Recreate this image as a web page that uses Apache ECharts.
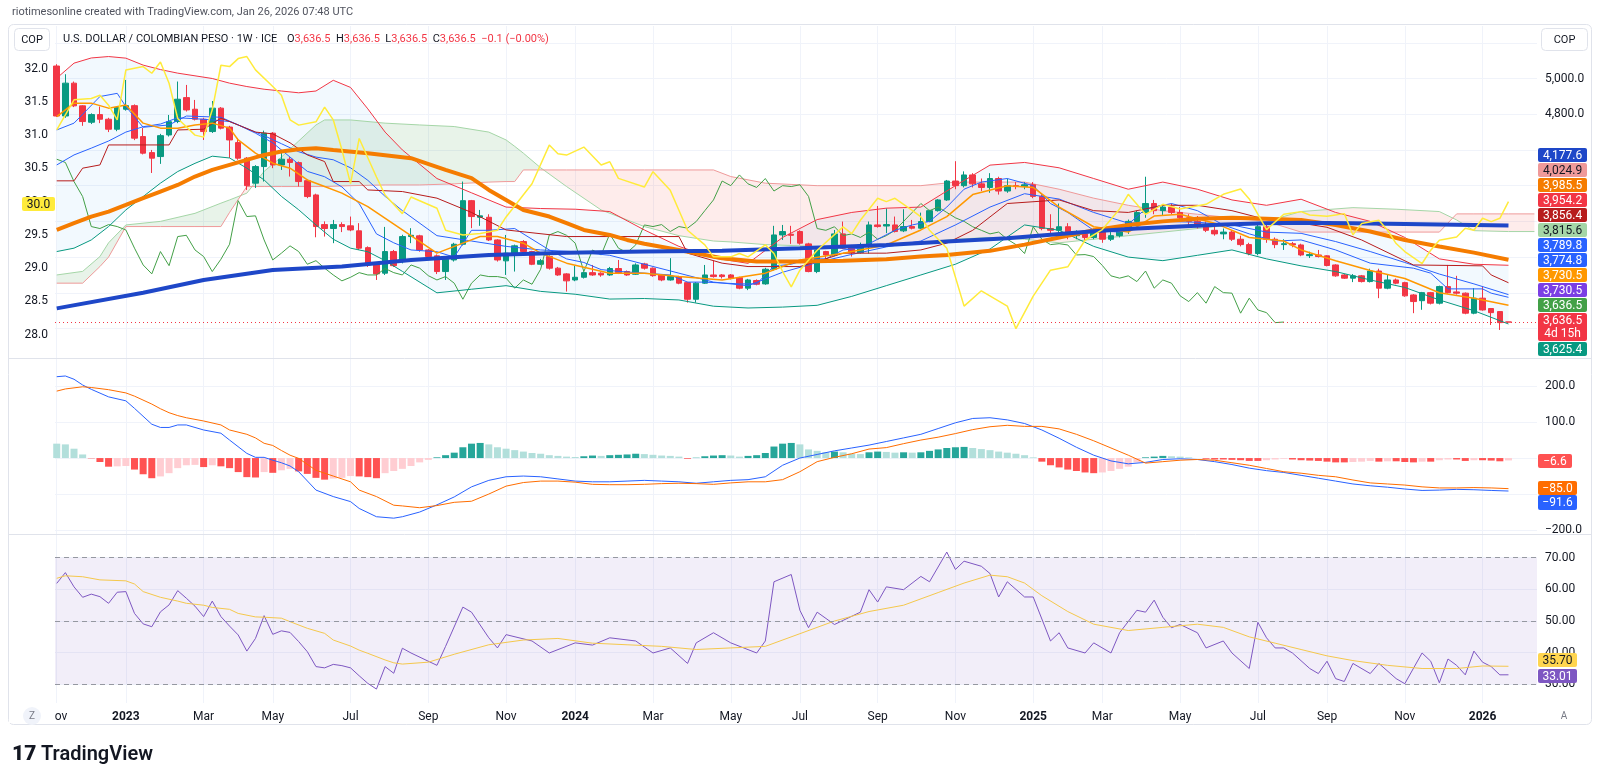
<!DOCTYPE html>
<html><head><meta charset="utf-8">
<script src="https://cdn.jsdelivr.net/npm/echarts@6/dist/echarts.min.js"></script>
<style>html,body{margin:0;padding:0;background:#fff;}#c{width:1600px;height:783px;}</style>
</head><body><div id="c"></div>
<script>
// ---------------- DATA (weekly bars, index 0 = week of 2022-11-07) ----------------
const OPEN = [5070,4790,4974,4847,4755,4798,4772,4716,4828,4848,
4675,4585,4563,4684,4759,4893,4828,4772,4703,4834,
4728,4641,4554,4414,4507,4694,4516,4548,4529,4428,
4348,4182,4160,4182,4175,4147,4053,3956,3910,4031,
3975,4115,4119,4040,4007,3919,3984,4072,4316,4223,
4223,4096,3979,4022,4087,4031,3960,4003,3938,3906,
3872,3887,3913,3910,3900,3936,3919,3904,3962,3938,
3900,3872,3891,3857,3764,3854,3900,3900,3900,3885,
3826,3869,3850,3932,4124,4128,4143,4074,3919,4031,
4012,4130,4063,4025,4068,4180,4174,4180,4147,4171,
4162,4199,4260,4320,4426,4400,4460,4410,4390,4440,
4370,4400,4395,4405,4340,4160,4150,4170,4120,4130,
4110,4140,4100,4120,4150,4200,4250,4300,4260,4280,
4250,4220,4200,4170,4150,4130,4140,4100,4070,4020,
4170,4100,4070,4075,4068,4008,4012,4007,3956,3900,
3882,3895,3863,3922,3826,3872,3857,3788,3756,3801,
3742,3835,3805,3798,3686,3770,3712,3695,3636.5];
const HIGH = [5080,5024,4983,4850,4805,4843,4780,4845,4992,4855,
4723,4600,4690,4796,4983,4964,4880,4780,4874,4840,
4735,4667,4560,4515,4708,4700,4600,4560,4535,4435,
4355,4200,4208,4195,4227,4190,4060,3965,4169,4040,
4125,4162,4125,4045,4015,3995,4080,4423,4320,4264,
4240,4100,4124,4070,4095,4035,3990,4010,3945,3910,
3951,3920,3956,3915,3945,3984,3925,3965,3968,3942,
3905,3994,3895,3862,3860,3956,3980,3905,3905,3890,
3878,3875,3940,4175,4180,4175,4150,4080,4059,4035,
4152,4199,4068,4081,4199,4286,4273,4227,4268,4208,
4249,4265,4325,4432,4537,4480,4470,4440,4470,4450,
4440,4420,4420,4420,4350,4240,4300,4190,4150,4140,
4160,4150,4140,4160,4210,4260,4450,4320,4290,4300,
4280,4240,4230,4200,4180,4160,4150,4120,4080,4190,
4180,4110,4100,4085,4075,4030,4040,4010,3960,3905,
3905,3900,3935,3935,3900,3880,3862,3793,3805,3805,
3840,3956,3895,3802,3826,3835,3715,3698,3636.5];
const LOW = [4785,4780,4840,4735,4745,4750,4700,4705,4820,4655,
4575,4471,4522,4675,4750,4815,4765,4656,4695,4715,
4555,4545,4376,4387,4423,4498,4488,4451,4395,4330,
4111,4115,4078,4140,4145,4040,3945,3872,3900,3945,
3965,4078,4030,3995,3905,3872,3975,4065,4162,4175,
4090,3975,3900,3919,4025,3955,3955,3930,3895,3807,
3865,3880,3895,3890,3895,3905,3895,3900,3930,3890,
3865,3868,3848,3745,3745,3850,3885,3880,3875,3820,
3815,3842,3845,3925,4096,4074,4070,3915,3910,3988,
4005,4045,4003,4020,4020,4165,4134,4138,4140,4155,
4158,4195,4255,4315,4380,4390,4390,4370,4360,4350,
4360,4380,4380,4330,4150,4130,4120,4100,4100,4090,
4100,4080,4090,4110,4130,4180,4220,4240,4230,4240,
4200,4180,4160,4140,4120,4100,4090,4060,4010,4010,
4080,4050,4040,4055,4005,3995,3998,3948,3890,3878,
3860,3858,3858,3770,3820,3848,3778,3686,3705,3735,
3735,3795,3790,3680,3680,3700,3620,3592,3636.5];
const CLOSE = [4790,4974,4847,4759,4798,4772,4716,4837,4848,4666,
4582,4554,4680,4758,4884,4824,4772,4703,4834,4722,
4656,4554,4400,4507,4694,4516,4548,4530,4423,4339,
4171,4160,4182,4171,4152,4050,3956,3906,4031,3952,
4115,4122,4040,4003,3919,3988,4072,4316,4227,4231,
4096,3984,4022,4063,4031,3960,3980,3938,3900,3867,
3887,3913,3900,3900,3936,3913,3900,3956,3938,3896,
3872,3891,3854,3764,3854,3900,3891,3891,3882,3826,
3872,3848,3932,4124,4143,4122,4078,3919,4040,4012,
4130,4050,4025,4068,4180,4171,4182,4143,4171,4162,
4199,4260,4320,4426,4400,4460,4410,4390,4440,4370,
4400,4395,4405,4340,4160,4150,4170,4120,4130,4110,
4140,4100,4120,4150,4200,4250,4300,4260,4280,4250,
4220,4200,4170,4150,4130,4140,4100,4070,4020,4170,
4100,4070,4075,4068,4012,4014,4003,3953,3895,3882,
3895,3863,3922,3826,3872,3854,3783,3751,3801,3742,
3835,3801,3798,3686,3770,3704,3689,3633,3636.5];

// x-axis ticks: [bar index, label]
const TIME_TICKS = [[0,'Nov'],[8,'2023'],[17,'Mar'],[25,'May'],[34,'Jul'],[43,'Sep'],[52,'Nov'],
[60,'2024'],[69,'Mar'],[78,'May'],[86,'Jul'],[95,'Sep'],[104,'Nov'],[113,'2025'],[121,'Mar'],
[130,'May'],[139,'Jul'],[147,'Sep'],[156,'Nov'],[165,'2026']];
const PRICE_TICKS = [3600,3800,4000,4200,4400,4600,4800,5000,5200];
const PRICE_LABELS = [4800,5000];
const LEFT_TICKS = [28,28.5,29,29.5,30,30.5,31,31.5,32];
const MACD_TICKS = [-200,-100,0,100,200];
const MACD_LABELS = [-200,100,200];
const RSI_TICKS = [30,40,50,60,70];

// Bollinger Bands (read on a shared index set)
const BB_IDX = [0,2,4,6,8,10,12,14,16,18,20,22,24,26,28,30,32,34,36,38,40,44,48,52,56,60,64,68,72,76,80,84,88,92,96,100,104,108,112,116,120,124,128,132,136,140,144,148,152,156,160,164,168];
const BB_UPPER = [5002,5086,5115,5123,5114,5075,5050,5030,5015,5000,4974,4955,4940,4930,4920,4930,4990,4950,4830,4700,4600,4440,4360,4280,4272,4268,4255,4152,4060,3995,3965,4110,4210,4250,4274,4280,4400,4515,4530,4500,4440,4380,4420,4380,4320,4290,4324,4250,4200,4110,3990,3960,3954.2];
const BB_BASIS = [4516,4572,4610,4650,4700,4730,4745,4780,4775,4768,4759,4720,4680,4635,4590,4560,4545,4500,4430,4340,4260,4120,4090,4060,4040,4030,4010,3960,3910,3860,3840,3915,3970,4015,4057,4090,4180,4280,4355,4325,4250,4190,4200,4195,4180,4140,4133,4087,4031,3970,3905,3850,3789.8];
const BB_LOWER = [4031,4050,4096,4171,4264,4339,4414,4479,4525,4565,4555,4498,4432,4340,4265,4180,4100,4050,4030,3980,3920,3800,3820,3840,3808,3792,3765,3768,3760,3725,3715,3720,3730,3780,3840,3900,3960,4045,4180,4150,4060,4000,3980,4010,4040,3990,3951,3919,3872,3830,3760,3700,3625.4];

// Ichimoku
const TENKAN = [[0,4712],[2,4750],[5,4899],[7,4917],[8,4843],[10,4727],[13,4740],[15,4790],[19,4783],[21,4740],[23,4694],[25,4640],[27,4560],[29,4480],[31,4450],[33,4393],[35,4300],[37,4130],[39,4080],[41,4040],[44,4030],[46,4000],[48,4150],[50,4150],[53,4160],[55,4100],[57,4040],[59,3990],[61,3970],[63,3930],[65,3920],[68,3910],[71,3900],[73,3860],[75,3860],[77,3855],[79,3850],[81,3850],[83,3950],[85,3960],[87,3990],[89,3990],[91,4040],[93,4050],[95,4100],[97,4150],[99,4180],[101,4200],[103,4280],[105,4380],[107,4420],[110,4440],[113,4400],[115,4300],[117,4250],[120,4150],[123,4140],[126,4270],[129,4300],[132,4260],[135,4180],[138,4130],[141,4090],[144,4096],[148,4040],[152,3966],[157,3938],[159,3910],[161,3822],[165,3822],[166,3798],[168,3774.8]];
const KIJUN = [[0,4427],[2,4427],[3,4498],[5,4516],[6,4628],[13,4628],[14,4712],[17,4716],[19,4778],[21,4740],[23,4700],[25,4690],[27,4640],[29,4572],[31,4535],[32,4423],[35,4423],[36,4376],[40,4367],[44,4330],[48,4250],[52,4152],[59,4115],[72,4115],[73,4022],[77,3966],[80,3947],[86,3947],[89,3990],[91,4022],[96,4022],[100,4040],[103,4078],[106,4150],[110,4300],[116,4320],[120,4260],[124,4250],[128,4290],[132,4290],[136,4260],[140,4210],[144,4190],[147,4167],[151,4096],[157,3956],[165,3951],[166,3900],[168,3856.4]];
const CLOUD_IDX = [0,3,5,6,8,12,16,19,20,22,24,26,28,30,31,34,38,42,46,50,52,53,54,56,59,63,68,72,76,78,82,88,94,100,104,108,112,116,120,124,128,132,136,140,144,150,155,160,162,164,168,171];
const LEAD_A = [3900,3920,4003,4080,4180,4200,4245,4302,4320,4358,4480,4560,4650,4740,4768,4768,4750,4740,4731,4700,4656,4620,4582,4500,4395,4264,4171,4120,4090,4085,4070,4060,4060,4080,4100,4110,4100,4080,4100,4120,4140,4160,4180,4200,4255,4277,4268,4255,4208,4148,4143,4143];
const LEAD_B = [3854,3854,3947,4000,4171,4171,4171,4171,4250,4395,4395,4395,4395,4395,4395,4400,4404,4404,4410,4420,4423,4423,4488,4488,4488,4488,4488,4488,4488,4451,4414,4400,4400,4400,4420,4420,4420,4380,4330,4290,4260,4240,4220,4200,4140,4140,4140,4140,4242,4242,4242,4242];
const LAG_SHIFT = 26;

// Moving averages
const SMA50 = [[0,4152],[2,4190],[4,4227],[6,4255],[8,4292],[10,4330],[12,4367],[14,4404],[16,4451],[18,4488],[20,4516],[22,4544],[24,4572],[26,4591],[28,4604],[30,4610],[32,4600],[36,4582],[41,4554],[45,4488],[48,4442],[50,4376],[52,4320],[54,4264],[57,4227],[59,4190],[61,4152],[64,4124],[66,4096],[68,4075],[72,4040],[77,3994],[81,3975],[86,3975],[91,3980],[96,3988],[100,4003],[103,4012],[108,4035],[112,4070],[116,4110],[120,4150],[124,4180],[128,4200],[132,4215],[136,4220],[140,4215],[144,4208],[148,4180],[152,4143],[156,4096],[160,4059],[164,4025],[168,3985.5]];
const SMA200 = [[0,3713],[10,3800],[17,3872],[25,3928],[33,3947],[41,3984],[50,4012],[59,4025],[68,4031],[77,4035],[86,4050],[96,4068],[103,4087],[110,4105],[115,4125],[120,4145],[125,4160],[130,4172],[135,4182],[140,4190],[144,4192],[150,4190],[160,4183],[168,4177.6]];
const EMA_FAST = [[0,4787],[2,4862],[4,4862],[6,4834],[8,4852],[10,4750],[12,4722],[14,4722],[16,4740],[18,4750],[20,4722],[21,4656],[23,4582],[25,4526],[27,4498],[29,4432],[31,4395],[33,4358],[36,4283],[40,4152],[44,4022],[47,4078],[49,4115],[51,4115],[54,4078],[56,4022],[59,3966],[64,3910],[68,3910],[72,3891],[77,3872],[82,3910],[84,3947],[86,3984],[91,4022],[96,4068],[100,4152],[103,4227],[106,4350],[110,4400],[113,4390],[116,4280],[120,4170],[124,4140],[127,4230],[130,4240],[134,4190],[138,4110],[142,4090],[144,4040],[148,3980],[152,3925],[156,3880],[160,3800],[164,3770],[168,3730.5]];
// overlay on the left scale
const OVERLAY = [[0,31.08],[2,31.53],[4,31.55],[5,31.6],[6,31.45],[7,31.23],[8,31.98],[10,32.03],[11,31.93],[12,32.1],[13,31.78],[14,31.25],[16,31.0],[17,30.97],[18,31.38],[19,32.05],[20,32.03],[21,32.15],[22,32.18],[23,31.98],[25,31.73],[26,31.6],[27,31.23],[28,31.15],[30,31.2],[31,31.42],[32,31.23],[33,30.78],[34,30.27],[35,30.95],[37,30.37],[38,30.1],[40,29.82],[41,30.07],[44,29.9],[45,29.57],[47,29.5],[49,29.52],[51,29.57],[52,29.77],[55,30.27],[57,30.85],[58,30.72],[59,30.7],[61,30.82],[63,30.55],[64,30.6],[65,30.35],[68,30.22],[69,30.45],[71,30.17],[72,29.87],[73,29.57],[75,29.35],[76,29.17],[78,29.17],[79,29.22],[80,29.17],[82,29.35],[83,29.22],[84,28.95],[85,28.72],[86,28.97],[88,29.27],[91,29.62],[92,29.52],[93,29.72],[95,30.05],[96,30.0],[97,30.05],[99,29.87],[100,29.77],[101,29.57],[103,29.3],[105,28.43],[107,28.66],[110,28.43],[111,28.09],[113,28.58],[115,28.97],[117,29.02],[119,29.42],[121,29.58],[123,29.89],[124,30.11],[126,29.81],[128,29.96],[130,29.89],[133,29.96],[135,30.11],[137,30.19],[138,30.04],[140,29.58],[142,29.81],[144,29.85],[145,29.8],[147,29.78],[148,29.8],[149,29.82],[150,29.5],[151,29.67],[153,29.72],[154,29.57],[155,29.37],[156,29.25],[158,29.07],[159,29.27],[160,29.42],[162,29.47],[163,29.6],[164,29.57],[165,29.75],[166,29.7],[167,29.75],[168,30.0]];

// MACD
const HIST = [40,38,26,10,-1,-11,-24,-23,-22,-32,
-45,-56,-51,-42,-28,-20,-19,-25,-20,-23,
-28,-39,-53,-54,-39,-41,-34,-30,-37,-44,
-55,-60,-57,-55,-50,-51,-53,-56,-42,-36,
-30,-22,-12,-5,2,8,15,30,40,42,
38,30,26,22,18,14,12,8,6,4,
3,5,7,6,8,9,10,12,11,9,
7,6,4,-2,1,5,7,8,7,4,
6,8,14,32,40,42,38,24,20,16,
18,16,12,11,16,18,17,15,16,15,
16,20,24,28,30,31,28,25,22,18,
15,12,8,2,-10,-20,-26,-32,-36,-40,
-42,-40,-36,-30,-24,-12,2,4,6,5,
4,2,0,-2,-4,-4,-5,-6,-8,-8,
-6,-4,-2,-4,-6,-7,-8,-10,-12,-12,
-11,-10,-8,-10,-9,-9,-11,-12,-10,-10,
-6,-4,-4,-8,-6,-6,-7,-9,-6.6];
const MACD_IDX = [0,1,2,3,4,6,8,9,11,12,13,14,15,17,19,20,22,23,24,25,26,27,28,30,32,34,35,37,39,40,42,44,46,48,50,52,54,56,58,60,62,64,66,68,70,72,74,76,78,80,82,84,86,88,90,92,94,96,98,100,102,104,106,108,110,112,114,116,118,120,122,124,126,128,130,132,134,136,138,140,142,144,146,148,150,152,154,156,158,160,162,164,166,168];
const MACD_LINE = [226,228,219,203,191,170,159,138,94,85,85,92,92,78,69,50,13,2,2,-6,-13,-22,-38,-89,-107,-121,-140,-163,-167,-163,-150,-130,-108,-80,-62,-52,-50,-52,-58,-64,-66,-66,-64,-62,-64,-66,-70,-66,-62,-60,-52,-20,0,10,20,28,36,46,56,66,82,98,110,112,106,96,78,55,30,8,-8,-16,-12,-4,-2,-4,-10,-18,-28,-35,-40,-48,-56,-64,-72,-77,-81,-86,-90,-89,-87,-88,-90,-91.6];
const SIGNAL = [186,192,195,198,196,190,181,172,150,137,126,118,112,103,92,78,66,56,41,35,21,8,-1,-34,-50,-66,-89,-107,-131,-133,-138,-132,-123,-120,-100,-78,-68,-64,-64,-67,-73,-74,-74,-73,-71,-70,-71,-73,-69,-66,-66,-60,-38,-10,2,12,25,29,40,50,58,68,79,87,91,88,88,81,66,48,28,8,-14,-10,-6,-4,-6,-13,-20,-29,-38,-42,-48,-52,-61,-69,-72,-75,-80,-83,-83,-82,-83,-85];

// RSI
const RSI = [[0,61.9],[1,65.3],[2,60.8],[3,57.5],[4,58.5],[5,57.7],[6,55.6],[7,59.1],[8,59.3],[9,52.4],[10,49.1],[11,48.2],[12,52.9],[13,55.1],[14,59.6],[15,57.2],[16,54.7],[17,51.4],[18,56.3],[19,51.4],[20,48.4],[21,45.6],[22,40.5],[23,44.5],[24,51.7],[25,45.8],[26,46.9],[27,46.4],[28,43.5],[29,40.3],[30,35.6],[31,35.2],[32,36.3],[33,35.9],[34,35.2],[35,32.7],[36,30.3],[37,28.5],[38,35.6],[39,33.5],[40,41.4],[41,39.9],[44,36],[45,42],[47,54.4],[48,52.8],[50,44.7],[51,41.5],[52,45.7],[55,43.7],[57,39.9],[60,43.1],[62,42.4],[64,44.7],[67,43.7],[69,39.9],[71,41.5],[73,36.6],[74,43.1],[76,46.3],[78,43.1],[81,39.9],[82,43.7],[83,62.4],[85,64.7],[86,53.4],[87,47.9],[88,52.8],[90,48.9],[93,52.8],[94,59.9],[95,56],[96,60.8],[98,59.9],[100,64.1],[101,62.4],[103,71.8],[104,66.3],[105,68.9],[107,67.3],[108,65],[109,57.6],[110,62.4],[112,57.6],[113,57.6],[115,43.7],[116,46.3],[117,41.5],[119,39.9],[120,43.1],[122,39.9],[123,46.3],[125,53.4],[126,52.8],[127,56.6],[128,51.2],[129,47.9],[130,48.9],[132,46.3],[133,41.5],[135,43.7],[136,39.9],[138,35],[139,49.6],[140,44.7],[141,41.5],[142,41.5],[143,39.9],[145,35],[146,33.4],[147,37.3],[148,31.8],[149,30.9],[150,36.6],[152,33.4],[153,36.6],[155,31.8],[156,30.2],[158,39.9],[159,37.3],[160,30.5],[161,38],[162,36],[163,33],[164,40.5],[165,37],[166,35.6],[167,33],[168,33.01]];
const RSI_MA = [[0,63.5],[1,64.3],[3,64],[5,63],[8,62.7],[9,61.7],[10,59.3],[12,57.5],[14,56.3],[15,55.6],[17,55],[18,54.3],[20,53.7],[21,52.4],[23,51.3],[24,51.2],[26,50.9],[27,49.8],[29,47.7],[31,46.1],[32,44],[34,42.1],[35,40.8],[36,39.8],[38,37.7],[39,36.8],[40,36.4],[43,37],[46,39.5],[50,42.5],[54,44],[58,44.5],[62,43],[66,42.5],[70,42],[74,41],[78,41.5],[82,42],[86,46],[90,50],[94,53],[98,55],[102,59],[105,62],[108,64.5],[110,64],[112,62],[114,58],[117,53],[120,49],[124,47],[128,48],[132,49],[135,48],[138,45],[141,43],[144,41],[147,39],[150,37.5],[154,36],[158,35],[162,35],[165,35.8],[168,35.7]];

// price-scale tags (stacked as in the picture)
const PRICE_TAGS = [
 ['4,177.6','#1E47C8','#ffffff'],['4,024.9','#EF9A9A','#131722'],['3,985.5','#F57C00','#ffffff'],
 ['3,954.2','#F23645','#ffffff'],['3,856.4','#B71C1C','#ffffff'],['3,815.6','#A5D6A7','#131722'],
 ['3,789.8','#2962FF','#ffffff'],['3,774.8','#2962FF','#ffffff'],['3,730.5','#FF9800','#ffffff'],
 ['3,730.5','#7B3FE4','#ffffff'],['3,636.5','#43A047','#ffffff']];

// ---------------- CHART ----------------
const FONT = 'Roboto, "Liberation Sans", Arial, sans-serif';
const X_MIN = -0.2, X_MAX = 171.3;
const PLOT_L = 55, PLOT_R = 1537;
const tickMap = {}; TIME_TICKS.forEach(t => tickMap[t[0]] = t[1]);
const tickIdx = TIME_TICKS.map(t => t[0]);
const fmtNum = (v, d) => (v < 0 ? '\u2212' : '') + Math.abs(v).toFixed(d).replace(/\B(?=(\d{3})+(?!\d))/g, ',');

const chart = echarts.init(document.getElementById('c'), null, {renderer: 'canvas'});

function xAxis(k, showLabels) {
  return {
    type: 'value', gridIndex: k, min: X_MIN, max: X_MAX,
    axisLine: {show: false},
    axisTick: {show: false, customValues: tickIdx},
    splitLine: {show: true, lineStyle: {color: '#F0F3FA', width: 1}},
    axisLabel: {
      show: showLabels, customValues: tickIdx, margin: 8,
      color: '#131722', fontSize: 12, fontFamily: FONT,
      formatter: v => { const s = tickMap[Math.round(v)] || ''; return /^\d{4}$/.test(s) ? '{b|' + s + '}' : s; },
      rich: {b: {fontWeight: 'bold', fontSize: 12, fontFamily: FONT, color: '#131722'}}
    }
  };
}

function sparseLine(name, data, color, width, z, yIdx, xIdx) {
  return {
    name, type: 'line', data, xAxisIndex: xIdx || 0, yAxisIndex: yIdx || 0,
    showSymbol: false, symbol: 'none', silent: true, z,
    lineStyle: {color, width}, emphasis: {disabled: true}, animation: false
  };
}

const candleData = OPEN.map((o, i) => {
  const item = {value: [i, o, CLOSE[i], LOW[i], HIGH[i]]};
  if (i === OPEN.length - 1) item.itemStyle = {color: '#F23645', borderColor: '#F23645', color0: '#F23645', borderColor0: '#F23645'};
  return item;
});
const lagData = [];
for (let i = LAG_SHIFT; i < CLOSE.length; i++) lagData.push([i - LAG_SHIFT, CLOSE[i]]);
const histData = HIST.map((v, i) => {
  const p = i > 0 ? HIST[i - 1] : v + 1;
  const c = v >= 0 ? (v >= p ? '#26A69A' : '#B2DFDB') : (v <= p ? '#FF5252' : '#FFCDD2');
  return {value: [i, v], itemStyle: {color: c}};
});
const zip = (idx, vals) => idx.map((x, k) => [x, vals[k]]);

const bbFill = {
  type: 'custom', xAxisIndex: 0, yAxisIndex: 0, z: 1, silent: true, data: [[0, 4000]], encode: {x: 0, y: 1},
  renderItem: (params, api) => {
    const up = BB_IDX.map((x, k) => api.coord([x, BB_UPPER[k]]));
    const lo = BB_IDX.map((x, k) => api.coord([x, BB_LOWER[k]])).reverse();
    return {type: 'polygon', shape: {points: up.concat(lo)}, style: {fill: 'rgba(33,150,243,0.06)'}};
  }
};
const cloudFill = {
  type: 'custom', xAxisIndex: 0, yAxisIndex: 0, z: 1, silent: true, data: [[0, 4000]], encode: {x: 0, y: 1},
  renderItem: (params, api) => {
    const polys = [];
    let cur = null;
    const start = (sign) => { cur = {sign, A: [], B: []}; polys.push(cur); };
    for (let k = 0; k < CLOUD_IDX.length; k++) {
      const x0 = CLOUD_IDX[k], a0 = LEAD_A[k], b0 = LEAD_B[k];
      if (!cur) start(a0 >= b0);
      cur.A.push([x0, a0]); cur.B.push([x0, b0]);
      if (k < CLOUD_IDX.length - 1) {
        const x1 = CLOUD_IDX[k + 1], a1 = LEAD_A[k + 1], b1 = LEAD_B[k + 1];
        const d0 = a0 - b0, d1 = a1 - b1;
        if (d0 * d1 < 0) {
          const t = d0 / (d0 - d1);
          const xc = x0 + t * (x1 - x0), yc = a0 + t * (a1 - a0);
          cur.A.push([xc, yc]); cur.B.push([xc, yc]);
          start(d1 > 0);
          cur.A.push([xc, yc]); cur.B.push([xc, yc]);
        }
      }
    }
    const children = polys.map(p => ({
      type: 'polygon',
      shape: {points: p.A.map(v => api.coord(v)).concat(p.B.slice().reverse().map(v => api.coord(v)))},
      style: {fill: p.sign ? 'rgba(67,160,71,0.12)' : 'rgba(244,67,54,0.10)'}
    }));
    return {type: 'group', children};
  }
};

function txt(x, y, text, extra) {
  return {type: 'text', x, y, z: 100, silent: true,
    style: Object.assign({text, fill: '#131722', font: '12px ' + FONT, align: 'left', verticalAlign: 'middle'}, extra || {})};
}
function tag(x, y, w, h, text, bg, fg) {
  return [
    {type: 'rect', z: 100, silent: true, shape: {x, y, width: w, height: h, r: 2}, style: {fill: bg}},
    {type: 'text', z: 101, silent: true, x: x + w / 2, y: y + h / 2 + 0.5,
      style: {text, fill: fg, font: '12px ' + FONT, align: 'center', verticalAlign: 'middle', lineHeight: 13}}
  ];
}
const HF = '11px ' + FONT;
const G = [];
G.push({type: 'rect', z: 90, silent: true, shape: {x: 8.5, y: 24.5, width: 1583, height: 700, r: 5}, style: {fill: 'none', stroke: '#E0E3EB', lineWidth: 1}});
G.push({type: 'line', z: 90, silent: true, shape: {x1: 9, y1: 358.5, x2: 1591, y2: 358.5}, style: {stroke: '#E0E3EB', lineWidth: 1}});
G.push({type: 'line', z: 90, silent: true, shape: {x1: 9, y1: 534.5, x2: 1591, y2: 534.5}, style: {stroke: '#E0E3EB', lineWidth: 1}});
G.push(txt(12, 12, 'riotimesonline created with TradingView.com, Jan 26, 2026 07:48 UTC', {fill: '#50535E', font: HF}));
G.push({type: 'rect', z: 100, silent: true, shape: {x: 14.5, y: 28.5, width: 35, height: 22, r: 4}, style: {fill: '#fff', stroke: '#E0E3EB'}});
G.push(txt(32, 40, 'COP', {align: 'center', font: HF}));
G.push({type: 'rect', z: 100, silent: true, shape: {x: 1541.5, y: 28.5, width: 46, height: 22, r: 4}, style: {fill: '#fff', stroke: '#E0E3EB'}});
G.push(txt(1564.5, 40, 'COP', {align: 'center', font: HF}));
G.push(txt(63, 39, 'U.S. DOLLAR / COLOMBIAN PESO \u00B7 1W \u00B7 ICE', {font: HF}));
G.push(txt(287, 39, 'O{r|3,636.5}  H{r|3,636.5}  L{r|3,636.5}  C{r|3,636.5}  {r|\u22120.1 (\u22120.00%)}',
  {font: HF, rich: {r: {fill: '#F23645', font: HF}}}));
PRICE_TAGS.forEach((t, k) => G.push(...tag(1538, 148 + k * 15, 49, 14, t[0], t[1], t[2])));
G.push(...tag(1538, 313, 49, 28, '3,636.5\n4d 15h', '#F23645', '#ffffff'));
G.push(...tag(1538, 342, 49, 14, '3,625.4', '#089981', '#ffffff'));
G.push(...tag(22, 197, 33, 14, '30.0', '#FFEB3B', '#131722'));
G.push(...tag(1538, 454, 34, 14, '\u22126.6', '#FF5252', '#ffffff'));
G.push(...tag(1538, 481, 39, 14, '\u221285.0', '#FF6D00', '#ffffff'));
G.push(...tag(1538, 495, 39, 15, '\u221291.6', '#2962FF', '#ffffff'));
G.push(...tag(1538, 653, 39, 14, '35.70', '#FFD54F', '#131722'));
G.push(...tag(1538, 669, 39, 14, '33.01', '#7E57C2', '#ffffff'));
G.push({type: 'rect', z: 95, silent: true, shape: {x: 9, y: 705, width: 45.5, height: 18}, style: {fill: '#fff'}});
G.push({type: 'circle', z: 100, silent: true, shape: {cx: 32, cy: 716, r: 9}, style: {fill: '#F0F3FA'}});
G.push(txt(32, 716, 'Z', {align: 'center', fill: '#787B86', font: '10px ' + FONT}));
G.push(txt(1564, 716, 'A', {align: 'center', fill: '#787B86', font: '10px ' + FONT}));
G.push(txt(12, 755, '17', {font: '900 21px ' + FONT, fill: '#131722'}));
G.push(txt(41, 755, 'TradingView', {font: '600 20px ' + FONT, fill: '#131722'}));

const option = {
  animation: false,
  backgroundColor: '#ffffff',
  textStyle: {fontFamily: FONT},
  grid: [
    {left: PLOT_L, right: 1600 - PLOT_R, top: 26, height: 332},
    {left: PLOT_L, right: 1600 - PLOT_R, top: 358, height: 176},
    {left: PLOT_L, right: 1600 - PLOT_R, top: 534, height: 169}
  ],
  xAxis: [xAxis(0, false), xAxis(1, false), xAxis(2, true)],
  yAxis: [
    {type: 'value', gridIndex: 0, position: 'right', min: 3435, max: 5294,
      axisLine: {show: false}, axisTick: {show: false, customValues: PRICE_TICKS},
      splitLine: {show: true, lineStyle: {color: '#F0F3FA'}},
      axisLabel: {customValues: PRICE_LABELS, margin: 8, color: '#131722', fontSize: 12, fontFamily: FONT, formatter: v => fmtNum(v, 1)}},
    {type: 'value', gridIndex: 0, position: 'left', min: 27.65, max: 32.64,
      axisLine: {show: false}, axisTick: {show: false, customValues: LEFT_TICKS}, splitLine: {show: false},
      axisLabel: {customValues: LEFT_TICKS, margin: 7, color: '#131722', fontSize: 12, fontFamily: FONT, formatter: v => v.toFixed(1)}},
    {type: 'value', gridIndex: 1, position: 'right', min: -211, max: 278,
      axisLine: {show: false}, axisTick: {show: false, customValues: MACD_TICKS},
      splitLine: {show: true, lineStyle: {color: '#F0F3FA'}},
      axisLabel: {customValues: MACD_LABELS, margin: 8, color: '#131722', fontSize: 12, fontFamily: FONT, formatter: v => fmtNum(v, 1)}},
    {type: 'value', gridIndex: 2, position: 'right', min: 24.1, max: 77.5,
      axisLine: {show: false}, axisTick: {show: false, customValues: RSI_TICKS},
      splitLine: {show: true, lineStyle: {color: '#F0F3FA'}},
      axisLabel: {customValues: RSI_TICKS, margin: 8, color: '#131722', fontSize: 12, fontFamily: FONT, formatter: v => v.toFixed(2)}}
  ],
  series: [
    bbFill,
    cloudFill,
    sparseLine('Lead A', zip(CLOUD_IDX, LEAD_A), '#A5D6A7', 1, 2),
    sparseLine('Lead B', zip(CLOUD_IDX, LEAD_B), '#EF9A9A', 1, 2),
    {
      name: 'USDCOP', type: 'candlestick', xAxisIndex: 0, yAxisIndex: 0, z: 3, silent: true,
      data: candleData, encode: {x: 0, y: [1, 2, 3, 4]}, barWidth: 6,
      itemStyle: {color: '#089981', color0: '#F23645', borderColor: '#089981', borderColor0: '#F23645', borderWidth: 1},
      markLine: {silent: true, symbol: 'none', label: {show: false},
        lineStyle: {color: '#F23645', type: [1, 3], width: 1}, data: [{yAxis: 3636.5}]}
    },
    sparseLine('Lagging', lagData, '#43A047', 1, 4),
    sparseLine('BB Upper', zip(BB_IDX, BB_UPPER), '#F23645', 1, 4),
    sparseLine('BB Lower', zip(BB_IDX, BB_LOWER), '#089981', 1, 4),
    sparseLine('BB Basis', zip(BB_IDX, BB_BASIS), '#2962FF', 1, 4),
    sparseLine('Tenkan', TENKAN, '#2962FF', 1, 4),
    sparseLine('Kijun', KIJUN, '#B71C1C', 1, 4),
    sparseLine('EMA', EMA_FAST, '#FF9800', 1.5, 5),
    sparseLine('SMA50', SMA50, '#F57C00', 4, 6),
    sparseLine('SMA200', SMA200, '#1E47C8', 4, 6),
    sparseLine('Overlay', OVERLAY, '#FFEB3B', 1.5, 7, 1, 0),
    {name: 'Histogram', type: 'bar', xAxisIndex: 1, yAxisIndex: 2, data: histData, barWidth: 7, silent: true, z: 2},
    sparseLine('MACD', zip(MACD_IDX, MACD_LINE), '#2962FF', 1, 3, 2, 1),
    sparseLine('Signal', zip(MACD_IDX, SIGNAL), '#FF6D00', 1, 3, 2, 1),
    Object.assign(sparseLine('RSI', RSI, '#7E57C2', 1, 3, 3, 2), {
      markArea: {silent: true, itemStyle: {color: 'rgba(126,87,194,0.1)'}, data: [[{yAxis: 70}, {yAxis: 30}]]},
      markLine: {silent: true, symbol: 'none', label: {show: false},
        lineStyle: {color: '#9598A1', type: [5, 4], width: 1}, data: [{yAxis: 70}, {yAxis: 50}, {yAxis: 30}]}
    }),
    sparseLine('RSI MA', RSI_MA, '#F5C84C', 1, 3, 3, 2)
  ],
  graphic: G
};
chart.setOption(option);
</script></body></html>
